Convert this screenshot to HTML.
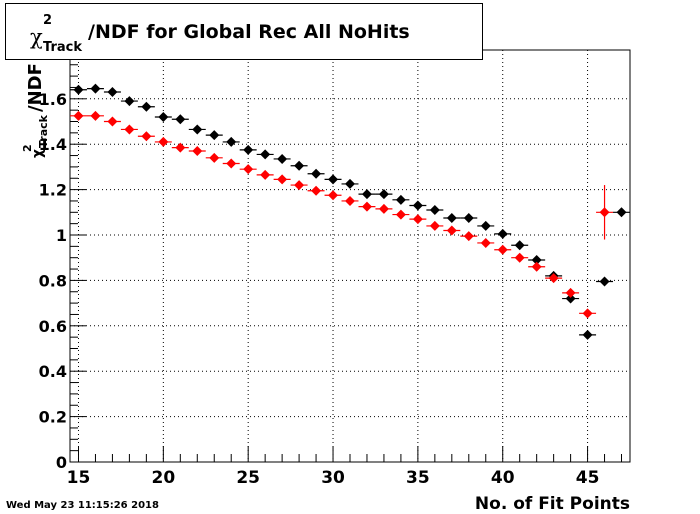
<!DOCTYPE html>
<html><head><meta charset="utf-8"><style>
body{margin:0;background:#fff;}
svg{display:block;font-family:"DejaVu Sans","Liberation Sans",sans-serif;}
</style></head><body>
<svg id="c" width="700" height="514">
<rect x="0" y="0" width="700" height="514" fill="#fff"/>
<g id="grid"></g>
<g id="axes"></g>
<g id="marks"></g>
<g>
<rect x="5.5" y="3.5" width="477" height="56" fill="#fff" stroke="#000"/>
<text x="30" y="44" font-size="21" font-family="DejaVu Serif, serif">χ</text>
<text x="43" y="24" font-size="13" font-weight="bold">2</text>
<text x="43" y="51" font-size="13" font-weight="bold">Track</text>
<text x="88" y="38" font-size="19" font-weight="bold">/NDF for Global Rec All NoHits</text>
</g>
<g transform="translate(45,158) rotate(-90)">
<text x="0" y="-3" font-size="14" font-weight="bold">χ</text>
<text x="6" y="-14" font-size="11" font-weight="bold">2</text>
<text x="10" y="2" font-size="11" font-weight="bold">Track</text>
<text x="46" y="-4" font-size="18" font-weight="bold">/NDF</text>
</g>
<text x="630" y="509" font-size="17" font-weight="bold" text-anchor="end">No. of Fit Points</text>
<text x="6" y="508" font-size="10" font-weight="bold">Wed May 23 11:15:26 2018</text>
</svg>
<script>
const xs=[15,16,17,18,19,20,21,22,23,24,25,26,27,28,29,30,31,32,33,34,35,36,37,38,39,40,41,42,43,44,45,46,47];
const blackVals=[1.64,1.645,1.63,1.59,1.565,1.52,1.51,1.465,1.44,1.41,1.375,1.355,1.335,1.305,1.27,1.245,1.225,1.18,1.18,1.155,1.13,1.11,1.075,1.075,1.04,1.005,0.955,0.89,0.82,0.72,0.56,0.795,1.10];
const redX=[15,16,17,18,19,20,21,22,23,24,25,26,27,28,29,30,31,32,33,34,35,36,37,38,39,40,41,42,43,44,45,46];
const redVals=[1.525,1.525,1.5,1.465,1.435,1.41,1.385,1.37,1.34,1.315,1.29,1.265,1.245,1.22,1.195,1.175,1.15,1.125,1.115,1.09,1.07,1.04,1.02,0.995,0.965,0.935,0.9,0.86,0.81,0.745,0.655,1.10];
const redErr=[0,0,0,0,0,0,0,0,0,0,0,0,0,0,0,0,0,0,0,0,0,0,0,0,0,0,0,0,0,0,0,0.12];
const xTicks=[15,20,25,30,35,40,45];
const yTicks=[0,0.2,0.4,0.6,0.8,1,1.2,1.4,1.6];
const yTickLabels=["0","0.2","0.4","0.6","0.8","1","1.2","1.4","1.6"];
const X0=70,X1=630,Y0=462,Y1=50,xmin=14.5,xmax=47.5,ymin=0,ymax=1.815;
const sx=v=>X0+(v-xmin)/(xmax-xmin)*(X1-X0);
const sy=v=>Y0-(v-ymin)/(ymax-ymin)*(Y0-Y1);
const NS="http://www.w3.org/2000/svg";
function mk(tag,attrs,parent){const e=document.createElementNS(NS,tag);for(const k in attrs)e.setAttribute(k,attrs[k]);parent.appendChild(e);return e;}
const grid=document.getElementById('grid'),axes=document.getElementById('axes'),marks=document.getElementById('marks');
xTicks.forEach(t=>{const l=mk('line',{x1:sx(t),x2:sx(t),y1:Y1,y2:Y0,stroke:'#000','stroke-dasharray':'1,3'},grid);});
yTicks.slice(1).forEach(t=>{const l=mk('line',{x1:X0,x2:X1,y1:sy(t),y2:sy(t),stroke:'#000','stroke-dasharray':'1,3'},grid);});
const fr=mk('rect',{x:X0,y:Y1,width:X1-X0,height:Y0-Y1,fill:'none',stroke:'#000'},axes);

for(let v=15;v<=47;v++){const major=xTicks.includes(v);const l=mk('line',{x1:sx(v),x2:sx(v),y1:Y0,y2:Y0-(major?16:8),stroke:'#000'},axes);}
for(let i=0;i<=36;i++){const v=i*0.05;if(v>ymax)break;const major=i%4===0;const l=mk('line',{x1:X0,x2:X0+(major?16:8),y1:sy(v),y2:sy(v),stroke:'#000'},axes);}
xTicks.forEach(t=>{const e=mk('text',{x:sx(t),y:Y0+21,'font-size':17,'font-weight':'bold','text-anchor':'middle'},axes);e.textContent=t;});
yTicks.forEach((t,i)=>{const e=mk('text',{x:X0-3,y:sy(t)+6,'font-size':16,'font-weight':'bold','text-anchor':'end'},axes);e.textContent=yTickLabels[i];});
function point(x,y,err,col,name){const g=mk('g',{},marks);
const cx=sx(x),cy=sy(y),hw=(X1-X0)/(xmax-xmin)/2;
mk('line',{x1:cx-hw,x2:cx+hw,y1:cy,y2:cy,stroke:col,'stroke-width':1.2},g);
if(err>0)mk('line',{x1:cx,x2:cx,y1:sy(y+err),y2:sy(y-err),stroke:col,'stroke-width':1.2},g);
mk('polygon',{points:`${cx},${cy-5} ${cx+5},${cy} ${cx},${cy+5} ${cx-5},${cy}`,fill:col},g);}
xs.forEach((x,i)=>point(x,blackVals[i],0,'#000','black-point'));
redX.forEach((x,i)=>point(x,redVals[i],redErr[i],'#f00','red-point'));
</script>
</body></html>
